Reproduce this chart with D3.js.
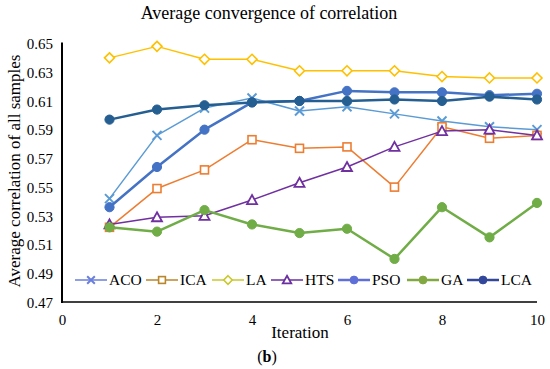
<!DOCTYPE html>
<html>
<head>
<meta charset="utf-8">
<script src="https://cdn.jsdelivr.net/npm/d3@7"></script>
<style>
  body { margin: 0; background: #fff; }
  text { font-family: "Liberation Serif", "Times New Roman", serif; fill: #000; }
</style>
</head>
<body>
<script>
// chart values
var iterations = [1, 2, 3, 4, 5, 6, 7, 8, 9, 10];
var seriesNames = ["ACO", "ICA", "LA", "HTS", "PSO", "GA", "LCA"];
var aco = [0.542, 0.586, 0.605, 0.612, 0.603, 0.606, 0.601, 0.596, 0.592, 0.590];
var ica = [0.522, 0.549, 0.562, 0.583, 0.577, 0.578, 0.550, 0.592, 0.584, 0.586];
var la  = [0.640, 0.648, 0.639, 0.639, 0.631, 0.631, 0.631, 0.627, 0.626, 0.626];
var hts = [0.524, 0.529, 0.530, 0.541, 0.553, 0.564, 0.578, 0.589, 0.590, 0.586];
var pso = [0.536, 0.564, 0.590, 0.609, 0.610, 0.617, 0.616, 0.616, 0.614, 0.615];
var ga  = [0.522, 0.519, 0.534, 0.524, 0.518, 0.521, 0.500, 0.536, 0.515, 0.539];
var lca = [0.597, 0.604, 0.607, 0.609, 0.610, 0.610, 0.611, 0.610, 0.613, 0.611];
var yTicks = [0.47, 0.49, 0.51, 0.53, 0.55, 0.57, 0.59, 0.61, 0.63, 0.65];
var xTicks = [0, 2, 4, 6, 8, 10];

var w = 550, h = 369;
var plotLeft = 62, plotRight = 537, plotTop = 43.5, plotBottom = 302;

var series = [
  { name: "ACO", values: aco, color: "#5b9bd5", legend: "#6a7fdc", marker: "cross",    width: 1.5 },
  { name: "ICA", values: ica, color: "#ed7d31", legend: "#b8862b", marker: "square",   width: 1.5 },
  { name: "LA",  values: la,  color: "#ffc000", legend: "#c9c82c", marker: "diamond",  width: 1.5 },
  { name: "HTS", values: hts, color: "#7030a0", legend: "#6a2fa0", marker: "triangle", width: 1.5 },
  { name: "PSO", values: pso, color: "#4472c4", legend: "#5f6fd8", marker: "circle",   width: 2.5 },
  { name: "GA",  values: ga,  color: "#70ad47", legend: "#82a842", marker: "circle",   width: 2.5 },
  { name: "LCA", values: lca, color: "#255e91", legend: "#33479a", marker: "circle",   width: 2.5 }
];

var x = d3.scaleLinear().domain([0, 10]).range([plotLeft, plotRight]);
var y = d3.scaleLinear().domain([0.47, 0.65]).range([plotBottom, plotTop]);

var svg = d3.select("body").append("svg").attr("width", w).attr("height", h);

// title
svg.append("text")
  .attr("x", 269).attr("y", 19)
  .attr("text-anchor", "middle")
  .style("font-size", "18px")
  .text("Average convergence of correlation");

// axes
var yAxis = svg.append("g")
  .attr("transform", "translate(" + plotLeft + ",0)")
  .call(d3.axisLeft(y).tickValues(yTicks).tickSize(0).tickPadding(9)
    .tickFormat(d3.format(".2f")));
yAxis.select(".domain").remove();
yAxis.selectAll("text").style("font-size", "15px").attr("dy", "0.35em");

var xAxis = svg.append("g")
  .attr("transform", "translate(0," + plotBottom + ")")
  .call(d3.axisBottom(x).tickValues(xTicks).tickSize(0).tickPadding(12));
xAxis.select(".domain").remove();
xAxis.selectAll("text").style("font-size", "15px");

svg.append("line")
  .attr("x1", plotLeft).attr("x2", plotLeft).attr("y1", plotTop - 1).attr("y2", plotBottom + 1)
  .attr("stroke", "#000").attr("stroke-width", 2);
svg.append("line")
  .attr("x1", plotLeft).attr("x2", plotRight).attr("y1", plotBottom).attr("y2", plotBottom)
  .attr("stroke", "#000").attr("stroke-width", 1.5);

// axis titles
svg.append("text")
  .attr("transform", "translate(14," + 171 + ") rotate(-90)")
  .attr("text-anchor", "middle")
  .attr("dy", "0.35em")
  .style("font-size", "17px")
  .text("Average correlation of all samples");

svg.append("text")
  .attr("x", 300).attr("y", 338)
  .attr("text-anchor", "middle")
  .style("font-size", "17px")
  .text("Iteration");

var b = svg.append("text")
  .attr("x", 267).attr("y", 362)
  .attr("text-anchor", "middle")
  .style("font-size", "16px");
b.append("tspan").text("(");
b.append("tspan").style("font-weight", "bold").text("b");
b.append("tspan").text(")");

// markers
function drawMarker(g, type, color, cx, cy, scale) {
  var s = scale || 1;
  if (type === "circle") {
    g.append("circle").attr("cx", cx).attr("cy", cy).attr("r", 4.6 * s)
      .attr("fill", color).attr("stroke", color).attr("stroke-width", 1);
  } else if (type === "square") {
    var r = 4 * s;
    g.append("rect").attr("x", cx - r).attr("y", cy - r).attr("width", 2 * r).attr("height", 2 * r)
      .attr("fill", "#fff").attr("stroke", color).attr("stroke-width", 1.6);
  } else if (type === "diamond") {
    var d = 5 * s;
    g.append("path")
      .attr("d", "M" + cx + "," + (cy - d) + "L" + (cx + d) + "," + cy + "L" + cx + "," + (cy + d) + "L" + (cx - d) + "," + cy + "Z")
      .attr("fill", "#fff").attr("stroke", color).attr("stroke-width", 1.6);
  } else if (type === "triangle") {
    var t = 5 * s;
    g.append("path")
      .attr("d", "M" + cx + "," + (cy - t) + "L" + (cx + t) + "," + (cy + t * 0.8) + "L" + (cx - t) + "," + (cy + t * 0.8) + "Z")
      .attr("fill", "#fff").attr("stroke", color).attr("stroke-width", 1.8);
  } else if (type === "cross") {
    var c = 4.5 * s;
    g.append("path")
      .attr("d", "M" + (cx - c) + "," + (cy - c) + "L" + (cx + c) + "," + (cy + c) + "M" + (cx - c) + "," + (cy + c) + "L" + (cx + c) + "," + (cy - c))
      .attr("fill", "none").attr("stroke", color).attr("stroke-width", 2);
  }
}

var line = d3.line()
  .x(function(d, i) { return x(iterations[i]); })
  .y(function(d) { return y(d); });

series.forEach(function(s) {
  var g = svg.append("g").attr("class", "series-" + s.name);
  g.append("path")
    .attr("d", line(s.values))
    .attr("fill", "none")
    .attr("stroke", s.color)
    .attr("stroke-width", s.width)
    .attr("stroke-linejoin", "round");
  s.values.forEach(function(v, i) {
    drawMarker(g, s.marker, s.color, x(iterations[i]), y(v));
  });
});

// legend
var legendX = [75, 146, 212, 271, 338, 407, 467];
var legendY = 280;
series.forEach(function(s, i) {
  var g = svg.append("g").attr("class", "legend");
  var lx = legendX[i];
  g.append("line")
    .attr("x1", lx).attr("x2", lx + 32).attr("y1", legendY).attr("y2", legendY)
    .attr("stroke", s.legend).attr("stroke-width", s.width);
  drawMarker(g, s.marker, s.legend, lx + 16, legendY, 0.85);
  g.append("text")
    .attr("x", lx + 34).attr("y", legendY)
    .attr("dy", "0.35em")
    .style("font-size", "15.5px")
    .text(s.name);
});
</script>
</body>
</html>
